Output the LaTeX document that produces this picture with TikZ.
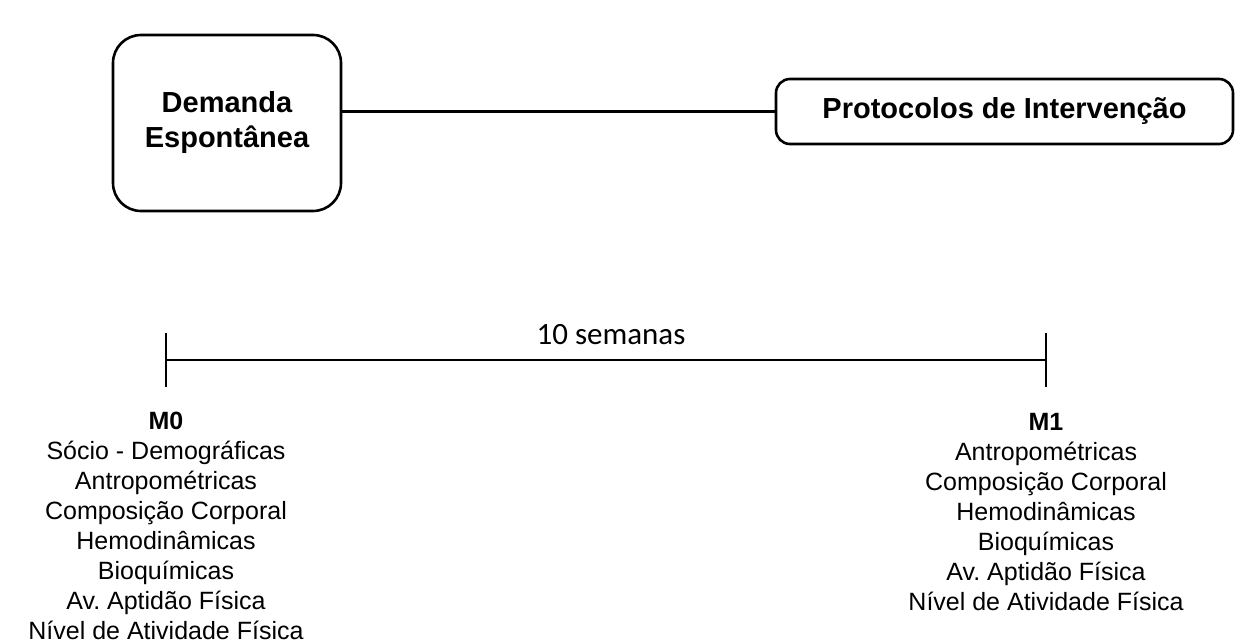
\documentclass[tikz,border=0pt]{standalone}
\usepackage{fontspec}
\setmainfont{Liberation Sans}
\newfontfamily\calibri{Carlito}
\usepackage{tikz}
\frenchspacing

\begin{document}
\begin{tikzpicture}[x=1pt, y=-1pt, line width=2.6pt,
    stage/.style={draw, rounded corners=28pt, align=center, inner sep=0pt,
        font=\fontsize{29}{35}\selectfont\bfseries},
    measures/.style={align=center, inner sep=0pt, anchor=north,
        font=\fontsize{25}{30}\selectfont}]
        \useasboundingbox (0,0) rectangle (1242,644);

        % Stages
        \node[stage, minimum width=228pt, minimum height=176pt] (demanda) at (227,123) {Demanda\\Espont\^anea};
        \node[stage, rounded corners=14pt, minimum width=457pt, minimum height=65pt] (protocolos) at (1004.5,111.5) {Protocolos de Interven\c{c}\~ao};
        \draw (protocolos.west -| demanda.east) -- (protocolos.west);

        % Time line
        \coordinate (m0) at (166,360);
        \coordinate (m1) at (1046,360);
        \draw (m0) -- (m1);
        \draw (m0) ++(0,-27) -- ++(0,54);
        \draw (m1) ++(0,-27) -- ++(0,54);
        \node[anchor=base, inner sep=0pt, font=\calibri\fontsize{31}{36}\selectfont] (semanas) at (611,344) {10 semanas};

        % Measurements
        \node[measures] (list0) at (166,411) {\textbf{M0}\\S\'ocio - Demogr\'aficas\\Antropom\'etricas\\Composi\c{c}\~ao Corporal\\Hemodin\^amicas\\Bioqu\'imicas\\Av. Aptid\~ao F\'isica\\N\'ivel de Atividade F\'isica};
        \node[measures] (list1) at (1046,412) {\textbf{M1}\\Antropom\'etricas\\Composi\c{c}\~ao Corporal\\Hemodin\^amicas\\Bioqu\'imicas\\Av. Aptid\~ao F\'isica\\N\'ivel de Atividade F\'isica};
    \end{tikzpicture}
\end{document}
